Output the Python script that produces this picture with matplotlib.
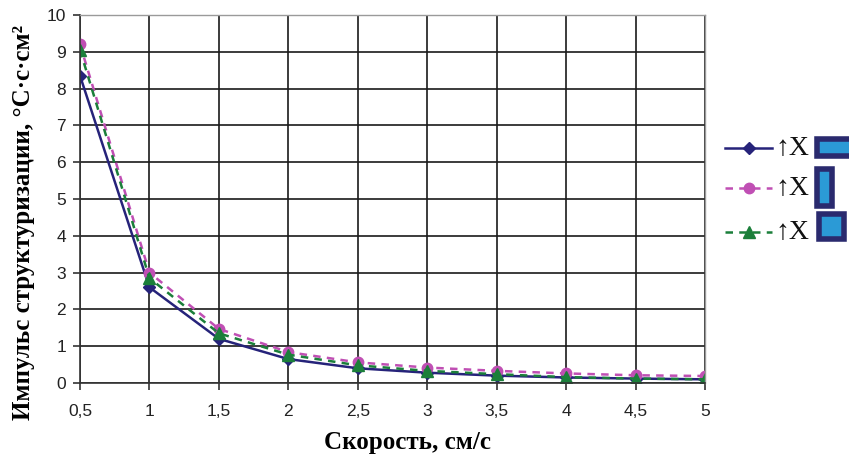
import matplotlib
matplotlib.use("Agg")
import matplotlib.pyplot as plt
from matplotlib.lines import Line2D
from matplotlib.patches import Rectangle

speed = [0.5, 1, 1.5, 2, 2.5, 3, 3.5, 4, 4.5, 5]
series_a = [8.35, 2.6, 1.2, 0.65, 0.4, 0.28, 0.2, 0.15, 0.12, 0.1]
series_b = [9.2, 3.0, 1.47, 0.84, 0.56, 0.42, 0.33, 0.26, 0.21, 0.19]
series_c = [9.05, 2.85, 1.35, 0.77, 0.48, 0.33, 0.24, 0.16, 0.12, 0.1]
x_ticks = [0.5, 1, 1.5, 2, 2.5, 3, 3.5, 4, 4.5, 5]
x_tick_labels = ["0,5", "1", "1,5", "2", "2,5", "3", "3,5", "4", "4,5", "5"]
y_ticks = list(range(0, 11))
legend_labels = ["↑X", "↑X", "↑X"]

navy = "#26237a"
pink = "#c04fb4"
green = "#1b7f3a"
W, H = 849, 457

fig = plt.figure(figsize=(8.49, 4.57), dpi=100)
ax = fig.add_axes([80 / W, 1 - 383 / H, 625 / W, 368 / H])

styles = [
    dict(color=navy, lw=1.8, ls="-", marker="D", ms=6.5),
    dict(color=pink, lw=1.8, ls=(0, (3, 2.5)), marker="o", ms=7.5),
    dict(color=green, lw=1.8, ls=(0, (3, 2.5)), marker="^", ms=8),
]
for ys, st in zip([series_a, series_b, series_c], styles):
    ax.plot(speed, ys, **st)

ax.set_xlim(0.5, 5)
ax.set_ylim(0, 10)
ax.set_xticks(x_ticks)
ax.set_xticklabels(x_tick_labels)
ax.set_yticks(y_ticks)
ax.grid(True, color="#1a1a1a", lw=1.2)
ax.set_axisbelow(True)
for s in ["left", "bottom"]:
    ax.spines[s].set_color("#333333")
    ax.spines[s].set_linewidth(1.2)
for s in ["right", "top"]:
    ax.spines[s].set_color("#9a9a9a")
    ax.spines[s].set_linewidth(1.0)
ax.tick_params(axis="both", length=5, width=1.2, color="#333333",
               labelsize=12.5, labelcolor="#222222")
ax.tick_params(axis="x", pad=10)
ax.tick_params(axis="y", pad=5)
for t in ax.get_xticklabels() + ax.get_yticklabels():
    t.set_fontfamily("Liberation Sans")

serif = ["Liberation Serif", "DejaVu Serif"]
fig.text(407 / W, 1 - 443 / H, "Скорость, см/с", fontsize=18,
         fontweight="bold", family=serif, ha="center", va="center")
fig.text(24 / W, 1 - 222 / H, "Импульс структуризации, °С·с·см²", fontsize=18,
         fontweight="bold", family=serif, ha="center", va="center",
         rotation=90)

# legend rows: line sample, label and a framed bar icon
rows_y = [148, 188, 232]
for y, st, lab in zip(rows_y, styles, legend_labels):
    yf = 1 - y / H
    fig.add_artist(Line2D([725 / W, 772 / W], [yf, yf], color=st["color"],
                          lw=st["lw"], ls=st["ls"], transform=fig.transFigure))
    fig.add_artist(Line2D([749 / W], [yf], color=st["color"],
                          marker=st["marker"], ms=st["ms"],
                          transform=fig.transFigure))
    fig.text(775 / W, yf, lab, fontsize=20, family=serif, ha="left",
             va="center", color="#111111")

icons = [(817, 139, 40, 17), (817, 169, 15, 37), (819, 214, 25, 25)]
for x0, y0, w, h in icons:
    fig.add_artist(Rectangle((x0 / W, 1 - (y0 + h) / H), w / W, h / H,
                             transform=fig.transFigure, facecolor="#2b9ad6",
                             edgecolor="#2a2a6e", lw=4))

fig.savefig("out.png", dpi=100)
